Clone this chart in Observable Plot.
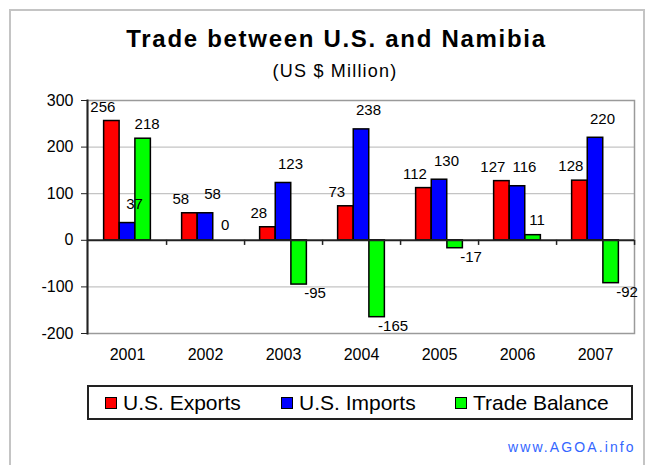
<!DOCTYPE html>
<html>
<head>
<meta charset="utf-8">
<script src="https://cdn.jsdelivr.net/npm/d3@7"></script>
<script src="https://cdn.jsdelivr.net/npm/@observablehq/plot@0.6"></script>
<style>
html, body { margin: 0; padding: 0; background: #fff; }
#wrap { position: relative; width: 653px; height: 465px; overflow: hidden; font-family: Arial, "Liberation Sans", sans-serif; color: #000; }
#outer { position: absolute; left: 9px; top: 9px; width: 636px; height: 470px; border: 2px solid #c4c4c4; box-sizing: border-box; }
#chart { position: absolute; left: 0; top: 0; }
#title { position: absolute; left: 0; width: 673px; top: 27px; text-align: center; font-size: 24px; line-height: 24px; font-weight: bold; letter-spacing: 1.7px; white-space: nowrap; }
#subtitle { position: absolute; left: 0; width: 670px; top: 62px; text-align: center; font-size: 18px; line-height: 18px; letter-spacing: 1.2px; white-space: nowrap; }
#legend { position: absolute; left: 87px; top: 385px; width: 546px; height: 35px; border: 2px solid #222; box-sizing: border-box; }
.item { position: absolute; top: 0; height: 31px; display: flex; align-items: center; font-size: 21px; white-space: nowrap; }
.sw { width: 10px; height: 10px; border: 1.5px solid #000; margin-right: 6px; }
#footer { position: absolute; left: 508px; top: 440px; font-size: 14px; line-height: 14px; letter-spacing: 2.1px; color: #3366ff; white-space: nowrap; }
</style>
</head>
<body>
<div id="wrap">
  <div id="outer"></div>
  <div id="chart"></div>
  <div id="title">Trade between U.S. and Namibia</div>
  <div id="subtitle">(US $ Million)</div>
  <div id="legend"></div>
  <div id="footer">www.AGOA.info</div>
</div>
<script>
// ---- data ----
const years = ["2001", "2002", "2003", "2004", "2005", "2006", "2007"];
const seriesNames = ["U.S. Exports", "U.S. Imports", "Trade Balance"];
const exportsVals = [256, 58, 28, 73, 112, 127, 128];
const importsVals = [37, 58, 123, 238, 130, 116, 220];
const balanceVals = [218, 0, -95, -165, -17, 11, -92];
const yTicks = [-200, -100, 0, 100, 200, 300];
const gridVals = [-100, 100, 200];
const seriesColors = ["#ff0000", "#0000ff", "#00ff00"];

// ---- layout ----
const W = 653, H = 465, ML = 87, MR = 19, MT = 100, MB = 132;
const step = (W - ML - MR) / years.length;
const bw = step / 5;
const tickLen = 11; // category tick length below zero line, in axis units (~5px)

const seriesVals = [exportsVals, importsVals, balanceVals];
const rows = seriesVals.flatMap((vals, k) => vals.map((v, i) => ({year: years[i], series: seriesNames[k], k, value: v})));

const styleBySeries = [
  {offset: -bw, dx: -9, dy: -14},
  {offset: 0, dx: 7, dy: -19},
  {offset: bw, dx: 4, dy: -15, negDx: 16, negDy: 9}
];

const marks = [
  Plot.ruleY(gridVals, {stroke: "#c4c4c4", strokeWidth: 1.2}),
  Plot.frame({stroke: "#9a9a9a", strokeWidth: 1.5})
];

seriesNames.forEach((name, k) => {
  const st = styleBySeries[k];
  const data = rows.filter(d => d.k === k);
  marks.push(Plot.barY(data, {
    x: "year", y: "value", fill: seriesColors[k], stroke: "#000", strokeWidth: 1.5,
    insetLeft: 2 * bw, insetRight: 2 * bw, dx: st.offset
  }));
});

marks.push(Plot.ruleY([0], {stroke: "#222", strokeWidth: 2}));
marks.push(Plot.ruleX(years, {x: d => d, y1: 0, y2: -tickLen, dx: step / 2, stroke: "#222", strokeWidth: 1.5}));
marks.push(Plot.frame({anchor: "left", stroke: "#222", strokeWidth: 2}));
marks.push(Plot.axisY({ticks: yTicks, tickSize: 6, tickPadding: 8, tickFormat: d => String(d), fontSize: 16, stroke: "#222", label: null}));
marks.push(Plot.axisX({anchor: "bottom", tickSize: 0, tickPadding: 15, fontSize: 16, label: null}));

seriesNames.forEach((name, k) => {
  const st = styleBySeries[k];
  const pos = rows.filter(d => d.k === k && d.value >= 0);
  const neg = rows.filter(d => d.k === k && d.value < 0);
  marks.push(Plot.text(pos, {x: "year", y: "value", text: d => String(d.value), dx: st.offset + st.dx, dy: st.dy, fontSize: 15, fill: "#000"}));
  if (neg.length) {
    marks.push(Plot.text(neg, {x: "year", y: "value", text: d => String(d.value), dx: st.offset + st.negDx, dy: st.negDy, fontSize: 15, fill: "#000"}));
  }
});

const chart = Plot.plot({
  width: W, height: H,
  marginLeft: ML, marginRight: MR, marginTop: MT, marginBottom: MB,
  style: {fontFamily: "Arial, 'Liberation Sans', sans-serif", fontSize: "16px", background: "transparent", color: "#000"},
  x: {type: "band", domain: years, padding: 0, label: null},
  y: {domain: [-200, 300], label: null},
  marks
});
document.getElementById("chart").appendChild(chart);

// ---- legend ----
const legend = document.getElementById("legend");
const itemLefts = [16, 192, 366];
seriesNames.forEach((name, k) => {
  const it = document.createElement("div");
  it.className = "item";
  it.style.left = itemLefts[k] + "px";
  const sw = document.createElement("span");
  sw.className = "sw";
  sw.style.background = seriesColors[k];
  const tx = document.createElement("span");
  tx.textContent = name;
  it.appendChild(sw);
  it.appendChild(tx);
  legend.appendChild(it);
});
</script>
</body>
</html>
